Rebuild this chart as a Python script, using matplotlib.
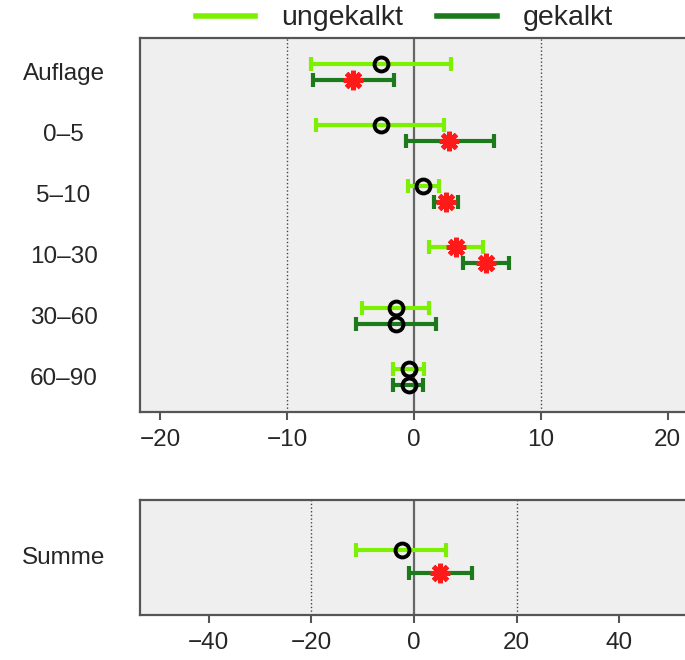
import matplotlib
matplotlib.use("Agg")
import matplotlib.pyplot as plt
from matplotlib.lines import Line2D
import numpy as np

plt.rcParams['font.family'] = ['Liberation Sans', 'DejaVu Sans']

# Schichten (oben) und Summe (unten)
layers = ["Auflage", "0–5", "5–10", "10–30", "30–60", "60–90"]

# ungekalkt: Mittelwert, untere und obere Grenze
ung_mean = [-2.6, -2.6, 0.7, 3.3, -1.45, -0.4]
ung_lo = [-8.1, -7.7, -0.5, 1.15, -4.1, -1.65]
ung_hi = [2.95, 2.35, 2.0, 5.4, 1.2, 0.8]
ung_sig = [False, False, False, True, False, False]

# gekalkt
gek_mean = [-4.8, 2.75, 2.5, 5.7, -1.45, -0.4]
gek_lo = [-8.0, -0.6, 1.6, 3.9, -4.6, -1.65]
gek_hi = [-1.55, 6.3, 3.5, 7.45, 1.7, 0.7]
gek_sig = [True, True, True, True, False, False]

# Summe
sum_label = "Summe"
sum_ung = [-2.4, -11.3, 6.2]   # mean, lo, hi
sum_gek = [5.1, -1.0, 11.4]
sum_ung_sig = False
sum_gek_sig = True

light = '#7cf000'
dark = '#1c7a1c'
txt = '#262626'
offset = 0.135


def draw_point(ax, x, y, lo, hi, color, sig):
    ax.errorbar([x], [y], xerr=[[x - lo], [hi - x]], fmt='none', ecolor=color,
                elinewidth=3, capsize=5, capthick=3, zorder=3)
    if sig:
        ax.plot([x], [y], marker=(8, 2, 0), ms=14, mec='#ff1a1a', mew=3.5, zorder=4)
        ax.plot([x], [y], marker='o', ms=7, mfc='#ff1a1a', mec='none', zorder=4)
    else:
        ax.plot([x], [y], marker='o', ms=10, mfc='none', mec='black', mew=2.8, zorder=4)


def style_axes(ax, grid_at):
    ax.set_facecolor('#efefef')
    for s in ax.spines.values():
        s.set_color('#555555')
        s.set_linewidth(1.6)
    for g in grid_at:
        ax.axvline(g, color='#444444', lw=1, ls=':', zorder=1)
    ax.axvline(0, color='#666666', lw=1.6, zorder=1)
    ax.tick_params(axis='y', length=0, pad=55, labelsize=17.5, labelcolor=txt)
    ax.tick_params(axis='x', length=6, width=1.5, color='#555555', pad=6,
                   labelsize=17.5, labelcolor=txt)
    for lab in ax.get_yticklabels():
        lab.set_ha('center')


fig = plt.figure(figsize=(6.85, 6.6), dpi=100)
ax1 = fig.add_axes([140 / 685, 1 - 412 / 660, 548 / 685, 374 / 660])
ax2 = fig.add_axes([140 / 685, 1 - 615 / 660, 548 / 685, 115 / 660])

for i in range(len(layers)):
    draw_point(ax1, ung_mean[i], i - offset, ung_lo[i], ung_hi[i], light, ung_sig[i])
    draw_point(ax1, gek_mean[i], i + offset, gek_lo[i], gek_hi[i], dark, gek_sig[i])

ax1.set_xlim(-21.6, 21.6)
ax1.set_ylim(5.574, -0.557)
ax1.set_xticks([-20, -10, 0, 10, 20])
ax1.set_yticks(range(len(layers)))
ax1.set_yticklabels(layers)
style_axes(ax1, [-10, 10])

draw_point(ax2, sum_ung[0], -offset, sum_ung[1], sum_ung[2], light, sum_ung_sig)
draw_point(ax2, sum_gek[0], offset, sum_gek[1], sum_gek[2], dark, sum_gek_sig)
ax2.set_xlim(-53.4, 53.4)
ax2.set_ylim(0.623, -0.714)
ax2.set_xticks([-40, -20, 0, 20, 40])
ax2.set_yticks([-0.07])
ax2.set_yticklabels([sum_label])
style_axes(ax2, [-20, 20])

handles = [Line2D([0], [0], color=light, lw=4), Line2D([0], [0], color=dark, lw=4)]
fig.legend(handles, ["ungekalkt", "gekalkt"], loc='center', bbox_to_anchor=(0.59, 0.972),
           ncol=2, frameon=False, fontsize=20.5, handlelength=2.1, handletextpad=0.9,
           columnspacing=1.2, labelcolor=txt, borderaxespad=0, borderpad=0)

fig.savefig("out.png", dpi=100)
